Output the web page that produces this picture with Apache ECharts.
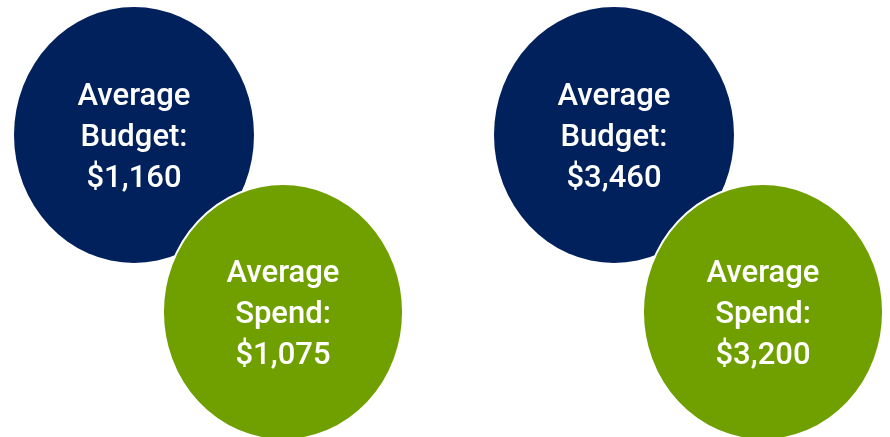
<!DOCTYPE html>
<html>
<head>
<meta charset="utf-8">
<script src="https://cdn.jsdelivr.net/npm/echarts@6/dist/echarts.min.js"></script>
<style>
  html, body { margin: 0; padding: 0; background: #fff; }
  #chart { width: 890px; height: 437px; }
</style>
</head>
<body>
<div id="chart"></div>
<script>
// values shown in the bubbles
const groups = ["Group A", "Group B"]
const budgetLabel = "Average\nBudget:"
const spendLabel = "Average\nSpend:"
const budgetValues = [1160, 3460]
const spendValues = [1075, 3200]

// layout (pixels, chart is 890 x 437)
const budgetCenters = [[134, 135], [614, 135]]
const spendCenters = [[283, 312], [763, 312]]
const bubbleSize = [240, 256]

const fmt = v => "$" + v.toLocaleString("en-US")

const chart = echarts.init(document.getElementById("chart"))

const labelStyle = {
  show: true,
  position: "inside",
  offset: [0, 3],
  color: "#fff",
  fontFamily: "Roboto, Liberation Sans, sans-serif",
  fontWeight: 500,
  fontSize: 31,
  lineHeight: 41,
  align: "center"
}

chart.setOption({
  backgroundColor: "#fff",
  animation: false,
  grid: { left: 0, right: 0, top: 0, bottom: 0 },
  xAxis: { type: "value", min: 0, max: 890, show: false },
  yAxis: { type: "value", min: 0, max: 437, inverse: true, show: false },
  series: [
    {
      name: "Budget",
      type: "scatter",
      symbol: "circle",
      symbolSize: bubbleSize,
      itemStyle: { color: "#00215C", opacity: 1 },
      label: Object.assign({}, labelStyle, {
        formatter: p => budgetLabel + "\n" + fmt(budgetValues[p.dataIndex])
      }),
      data: groups.map((g, i) => ({ name: g, value: budgetCenters[i] })),
      z: 1
    },
    {
      name: "Spend",
      type: "scatter",
      symbol: "circle",
      symbolSize: bubbleSize,
      itemStyle: { color: "#70A000", opacity: 1, borderColor: "#fff", borderWidth: 2 },
      label: Object.assign({}, labelStyle, {
        formatter: p => spendLabel + "\n" + fmt(spendValues[p.dataIndex])
      }),
      data: groups.map((g, i) => ({ name: g, value: spendCenters[i] })),
      z: 2
    }
  ]
})
</script>
</body>
</html>
